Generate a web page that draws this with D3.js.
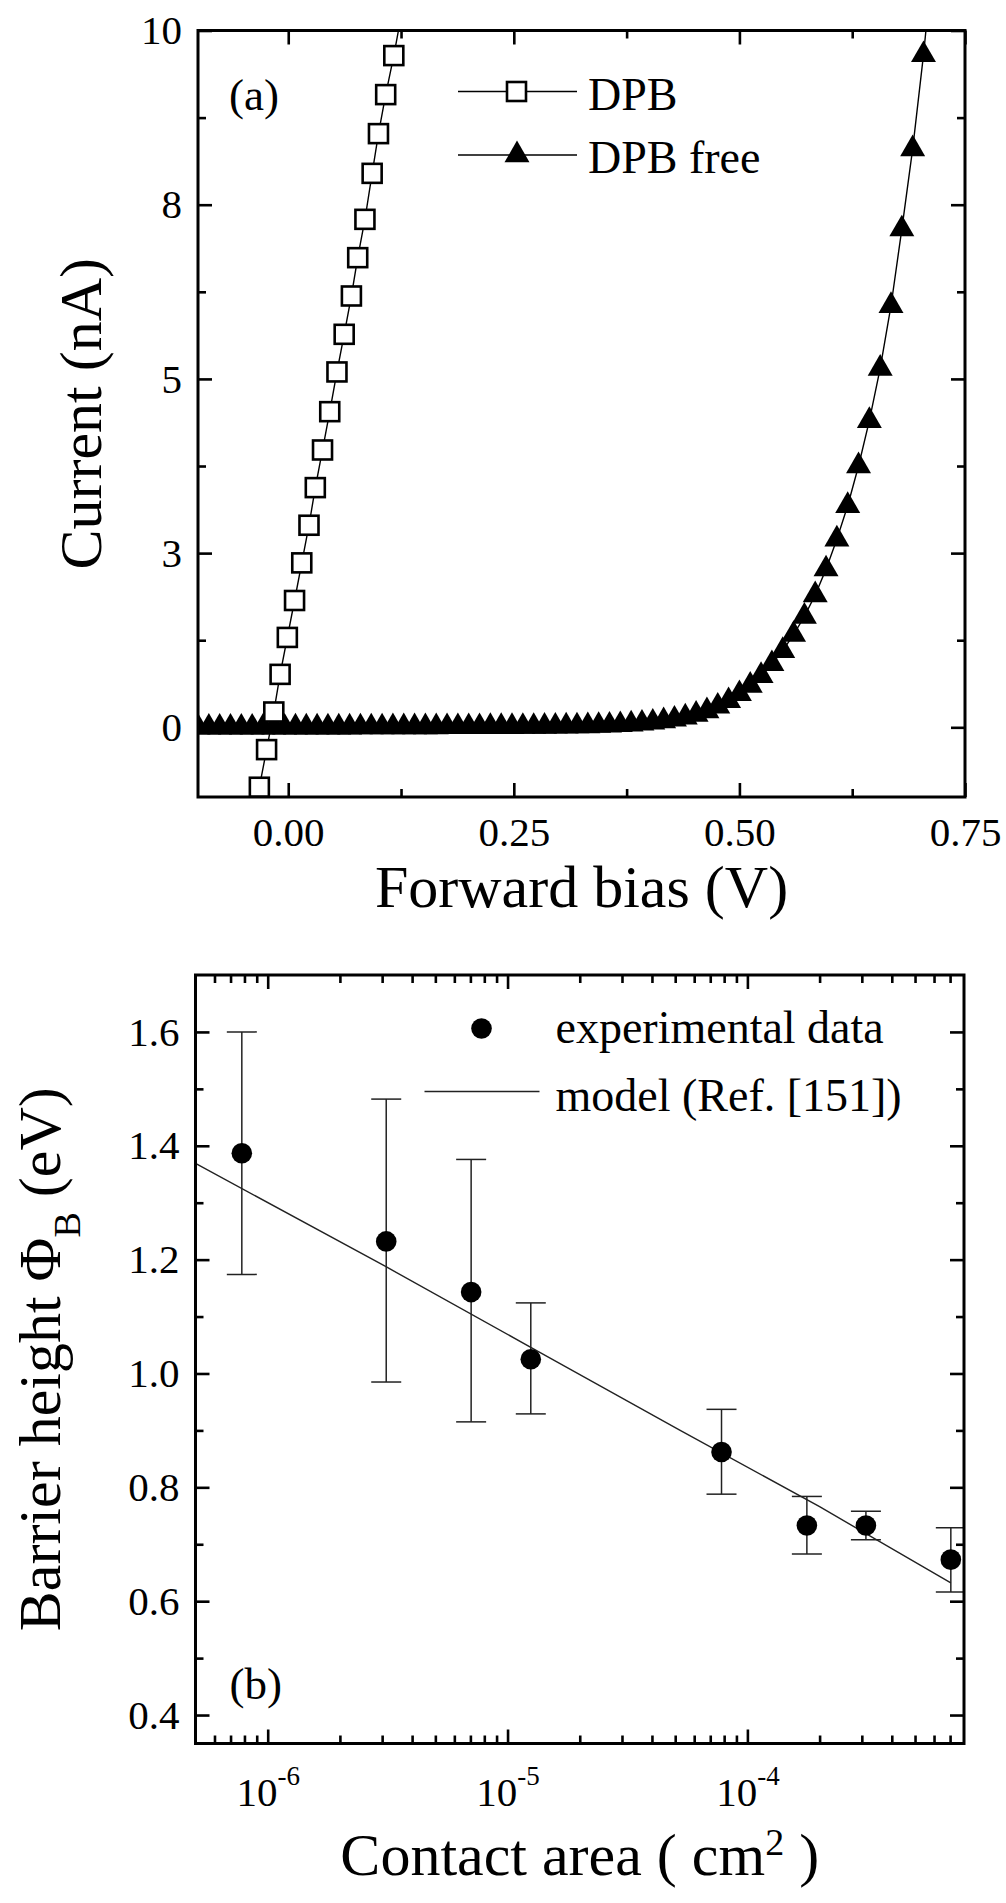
<!DOCTYPE html>
<html>
<head>
<meta charset="utf-8">
<title>DPB contacts</title>
<script src="https://cdn.jsdelivr.net/npm/d3@7"></script>
<style>
  body { margin: 0; background: #fff; }
  text { font-family: "Liberation Serif", "Times New Roman", serif; fill: #000; }
</style>
</head>
<body>
<div id="chart"></div>
<script>
// ---- panel (a): forward I-V ----
var dpbBias = [-0.040, -0.032, -0.024, -0.016, -0.009, -0.001, 0.007, 0.015, 0.023, 0.030, 0.038,
  0.046, 0.054, 0.062, 0.070, 0.077, 0.085, 0.093, 0.100, 0.108, 0.117, 0.125];
var dpbCurrent = [-1.42, -0.86, -0.32, 0.22, 0.76, 1.29, 1.82, 2.36, 2.90, 3.44, 3.98,
  4.53, 5.10, 5.64, 6.19, 6.74, 7.29, 7.95, 8.52, 9.08, 9.64, 10.2];

var freeBias = [-0.100, -0.088, -0.076, -0.064, -0.052, -0.040, -0.028, -0.016, -0.004, 0.008,
  0.020, 0.032, 0.044, 0.056, 0.068, 0.080, 0.092, 0.104, 0.116, 0.128,
  0.140, 0.152, 0.164, 0.176, 0.188, 0.200, 0.212, 0.224, 0.236, 0.248,
  0.260, 0.272, 0.284, 0.296, 0.308, 0.320, 0.332, 0.344, 0.356, 0.368,
  0.380, 0.392, 0.404, 0.416, 0.428, 0.440, 0.452, 0.464, 0.476, 0.488,
  0.500, 0.512, 0.524, 0.536, 0.548, 0.560, 0.572, 0.584, 0.596, 0.608,
  0.620, 0.632, 0.644, 0.656, 0.668, 0.680, 0.692, 0.704, 0.716];
var freeCurrent = [0.000, 0.000, 0.000, 0.000, 0.000, 0.000, 0.000, 0.000, 0.000, 0.001,
  0.001, 0.001, 0.002, 0.002, 0.002, 0.003, 0.003, 0.003, 0.004, 0.004,
  0.004, 0.005, 0.005, 0.006, 0.006, 0.007, 0.007, 0.008, 0.008, 0.009,
  0.010, 0.011, 0.012, 0.013, 0.015, 0.017, 0.020, 0.024, 0.029, 0.036,
  0.045, 0.057, 0.072, 0.091, 0.115, 0.145, 0.185, 0.235, 0.30, 0.38,
  0.48, 0.60, 0.74, 0.91, 1.10, 1.33, 1.59, 1.90, 2.27, 2.70,
  3.18, 3.75, 4.40, 5.15, 6.05, 7.15, 8.30, 9.65, 11.2];

var biasTicks = [0, 0.25, 0.5, 0.75];
var biasTickLabels = ["0.00", "0.25", "0.50", "0.75"];
var biasMinor = [0.125, 0.375, 0.625];
var currentTicks = [0, 2.5, 5, 7.5, 10];
var currentTickLabels = ["0", "3", "5", "8", "10"];
var currentMinor = [1.25, 3.75, 6.25, 8.75];

// ---- panel (b): barrier height vs contact area ----
var area = [7.8e-7, 3.12e-6, 7.05e-6, 1.25e-5, 7.8e-5, 1.77e-4, 3.12e-4, 7.05e-4];
var barrier = [1.387, 1.232, 1.143, 1.025, 0.862, 0.733, 0.733, 0.673];
var barrierHigh = [1.600, 1.482, 1.376, 1.124, 0.937, 0.784, 0.758, 0.729];
var barrierLow = [1.174, 0.985, 0.915, 0.929, 0.788, 0.683, 0.708, 0.616];
var modelArea = [5e-7, 3.1e-6, 1.25e-5, 5.2e-5, 2e-4, 7.05e-4];
var modelBarrier = [1.369, 1.188, 1.046, 0.901, 0.766, 0.632];

var areaTicks = [1e-6, 1e-5, 1e-4];
var areaTickExp = ["-6", "-5", "-4"];
var barrierTicks = [0.4, 0.6, 0.8, 1.0, 1.2, 1.4, 1.6];
var barrierTickLabels = ["0.4", "0.6", "0.8", "1.0", "1.2", "1.4", "1.6"];
var barrierMinor = [0.5, 0.7, 0.9, 1.1, 1.3, 1.5];

var W = 1006, H = 1903;
var svg = d3.select("#chart").append("svg")
  .attr("width", W).attr("height", H)
  .style("display", "block")
  .style("background", "#fff");

var MAJOR = 14, MINOR = 8;

// inward ticks on all four sides
function frameTicks(g, x, y, w, h, xMaj, xMin, yMaj, yMin) {
  var sets = [
    [d3.axisBottom, x, xMaj, MAJOR, "translate(0," + h + ")"],
    [d3.axisBottom, x, xMin, MINOR, "translate(0," + h + ")"],
    [d3.axisTop, x, xMaj, MAJOR, null],
    [d3.axisTop, x, xMin, MINOR, null],
    [d3.axisLeft, y, yMaj, MAJOR, null],
    [d3.axisLeft, y, yMin, MINOR, null],
    [d3.axisRight, y, yMaj, MAJOR, "translate(" + w + ",0)"],
    [d3.axisRight, y, yMin, MINOR, "translate(" + w + ",0)"]
  ];
  sets.forEach(function(s) {
    var a = g.append("g");
    if (s[4]) a.attr("transform", s[4]);
    a.call(s[0](s[1]).tickValues(s[2]).tickSize(-s[3]).tickFormat(""));
    a.select(".domain").remove();
    a.selectAll("line").attr("stroke", "#000").attr("stroke-width", 2.6);
  });
  g.append("rect").attr("width", w).attr("height", h)
    .attr("fill", "none").attr("stroke", "#000").attr("stroke-width", 3);
}

// ================= panel (a) =================
var A = {left: 198, top: 30.5, w: 767, h: 766.5};
var ga = svg.append("g").attr("transform", "translate(" + A.left + "," + A.top + ")");
var xa = d3.scaleLinear().domain([-0.1, 0.75]).range([0, A.w]);
var ya = d3.scaleLinear().domain([-1, 10]).range([A.h, 0]);

ga.append("clipPath").attr("id", "clipA")
  .append("rect").attr("width", A.w).attr("height", A.h);
var pa = ga.append("g").attr("clip-path", "url(#clipA)");

var lineA = d3.line().x(function(d) { return xa(d[0]); }).y(function(d) { return ya(d[1]); });
var dpb = d3.zip(dpbBias, dpbCurrent);
var free = d3.zip(freeBias, freeCurrent);

pa.append("path").datum(free).attr("d", lineA)
  .attr("fill", "none").attr("stroke", "#000").attr("stroke-width", 1.4);
pa.append("path").datum(dpb).attr("d", lineA)
  .attr("fill", "none").attr("stroke", "#000").attr("stroke-width", 1.4);

var tri = d3.symbol().type(d3.symbolTriangle).size(270);
pa.selectAll(".tri").data(free).join("path")
  .attr("class", "tri")
  .attr("d", tri)
  .attr("transform", function(d) { return "translate(" + xa(d[0]) + "," + ya(d[1]) + ")"; })
  .attr("fill", "#000");

pa.selectAll(".sq").data(dpb).join("rect")
  .attr("class", "sq")
  .attr("x", function(d) { return xa(d[0]) - 9.5; })
  .attr("y", function(d) { return ya(d[1]) - 9.5; })
  .attr("width", 19).attr("height", 19)
  .attr("fill", "#fff").attr("stroke", "#000").attr("stroke-width", 2.6);

frameTicks(ga, xa, ya, A.w, A.h, biasTicks, biasMinor, currentTicks, currentMinor);

var axA = ga.append("g").attr("transform", "translate(0," + A.h + ")")
  .call(d3.axisBottom(xa).tickValues(biasTicks).tickSize(0).tickPadding(20)
    .tickFormat(function(d, i) { return biasTickLabels[i]; }));
axA.select(".domain").remove();
axA.selectAll("text").attr("font-size", 41).attr("font-family", null);

var ayA = ga.append("g")
  .call(d3.axisLeft(ya).tickValues(currentTicks).tickSize(0).tickPadding(16)
    .tickFormat(function(d, i) { return currentTickLabels[i]; }));
ayA.select(".domain").remove();
ayA.selectAll("text").attr("font-size", 41).attr("font-family", null);

ga.append("text").attr("x", A.w / 2).attr("y", 876)
  .attr("text-anchor", "middle").attr("font-size", 60)
  .text("Forward bias (V)");
svg.append("text")
  .attr("transform", "translate(101," + (A.top + A.h / 2) + ") rotate(-90)")
  .attr("text-anchor", "middle").attr("font-size", 60)
  .text("Current (nA)");

ga.append("text").attr("x", 31).attr("y", 79).attr("font-size", 45).text("(a)");

// legend (a)
var lg = ga.append("g");
lg.append("line").attr("x1", 260).attr("x2", 379).attr("y1", 61).attr("y2", 61)
  .attr("stroke", "#000").attr("stroke-width", 1.4);
lg.append("rect").attr("x", 309).attr("y", 51.5).attr("width", 19).attr("height", 19)
  .attr("fill", "#fff").attr("stroke", "#000").attr("stroke-width", 2.6);
lg.append("text").attr("x", 390).attr("y", 79).attr("font-size", 46).text("DPB");
lg.append("line").attr("x1", 260).attr("x2", 379).attr("y1", 124.5).attr("y2", 124.5)
  .attr("stroke", "#000").attr("stroke-width", 1.4);
lg.append("path").attr("d", tri).attr("transform", "translate(319,124.5)").attr("fill", "#000");
lg.append("text").attr("x", 390).attr("y", 142).attr("font-size", 46).text("DPB free");

// ================= panel (b) =================
var B = {left: 195.5, top: 975, w: 768.5, h: 768.5};
var gb = svg.append("g").attr("transform", "translate(" + B.left + "," + B.top + ")");
var xb = d3.scaleLog().domain([5e-7, 8e-4]).range([0, B.w]);
var yb = d3.scaleLinear().domain([0.35, 1.7]).range([B.h, 0]);

var areaMinor = [];
[1e-7, 1e-6, 1e-5, 1e-4].forEach(function(dec) {
  for (var k = 2; k <= 9; k++) {
    var v = k * dec;
    if (v > 5e-7 && v < 8e-4) areaMinor.push(v);
  }
});

gb.append("clipPath").attr("id", "clipB")
  .append("rect").attr("width", B.w).attr("height", B.h);
var pb = gb.append("g").attr("clip-path", "url(#clipB)");

var lineB = d3.line().x(function(d) { return xb(d[0]); }).y(function(d) { return yb(d[1]); });
pb.append("path").datum(d3.zip(modelArea, modelBarrier)).attr("d", lineB)
  .attr("fill", "none").attr("stroke", "#222").attr("stroke-width", 1.4);

var pts = area.map(function(a, i) { return {a: a, v: barrier[i], hi: barrierHigh[i], lo: barrierLow[i]}; });
var eb = pb.selectAll(".eb").data(pts).join("g").attr("class", "eb");
eb.append("line")
  .attr("x1", function(d) { return xb(d.a); }).attr("x2", function(d) { return xb(d.a); })
  .attr("y1", function(d) { return yb(d.hi); }).attr("y2", function(d) { return yb(d.lo); })
  .attr("stroke", "#222").attr("stroke-width", 1.5);
["hi", "lo"].forEach(function(k) {
  eb.append("line")
    .attr("x1", function(d) { return xb(d.a) - 15; }).attr("x2", function(d) { return xb(d.a) + 15; })
    .attr("y1", function(d) { return yb(d[k]); }).attr("y2", function(d) { return yb(d[k]); })
    .attr("stroke", "#222").attr("stroke-width", 1.5);
});
eb.append("circle")
  .attr("cx", function(d) { return xb(d.a); }).attr("cy", function(d) { return yb(d.v); })
  .attr("r", 10.3).attr("fill", "#000");

frameTicks(gb, xb, yb, B.w, B.h, areaTicks, areaMinor, barrierTicks, barrierMinor);

var axB = gb.append("g").attr("transform", "translate(0," + B.h + ")")
  .call(d3.axisBottom(xb).tickValues(areaTicks).tickSize(0).tickPadding(33).tickFormat(""));
axB.select(".domain").remove();
axB.selectAll("text").attr("font-size", 41).attr("font-family", null)
  .each(function(d, i) {
    var t = d3.select(this);
    t.append("tspan").text("10");
    t.append("tspan").attr("font-size", 27).attr("dy", "-0.75em").text(areaTickExp[i]);
  });

var ayB = gb.append("g")
  .call(d3.axisLeft(yb).tickValues(barrierTicks).tickSize(0).tickPadding(16)
    .tickFormat(function(d, i) { return barrierTickLabels[i]; }));
ayB.select(".domain").remove();
ayB.selectAll("text").attr("font-size", 41).attr("font-family", null);

var tx = gb.append("text").attr("x", B.w / 2).attr("y", 900)
  .attr("text-anchor", "middle").attr("font-size", 60);
tx.append("tspan").text("Contact area ( cm");
tx.append("tspan").attr("font-size", 38).attr("dy", -20).text("2");
tx.append("tspan").attr("dy", 20).text(" )");

var ty = svg.append("text")
  .attr("transform", "translate(60," + (B.top + B.h / 2) + ") rotate(-90)")
  .attr("text-anchor", "middle").attr("font-size", 60);
ty.append("tspan").text("Barrier height \u03A6");
ty.append("tspan").attr("font-size", 38).attr("dy", 20).text("B");
ty.append("tspan").attr("dy", -20).text(" (eV)");

gb.append("text").attr("x", 34).attr("y", 724).attr("font-size", 45).text("(b)");

// legend (b)
var lb = gb.append("g");
lb.append("circle").attr("cx", 286).attr("cy", 53.5).attr("r", 10.3).attr("fill", "#000");
lb.append("text").attr("x", 360).attr("y", 68).attr("font-size", 46).text("experimental data");
lb.append("line").attr("x1", 229).attr("x2", 344).attr("y1", 116.5).attr("y2", 116.5)
  .attr("stroke", "#222").attr("stroke-width", 1.4);
lb.append("text").attr("x", 360).attr("y", 136).attr("font-size", 46).text("model (Ref. [151])");
</script>
</body>
</html>
